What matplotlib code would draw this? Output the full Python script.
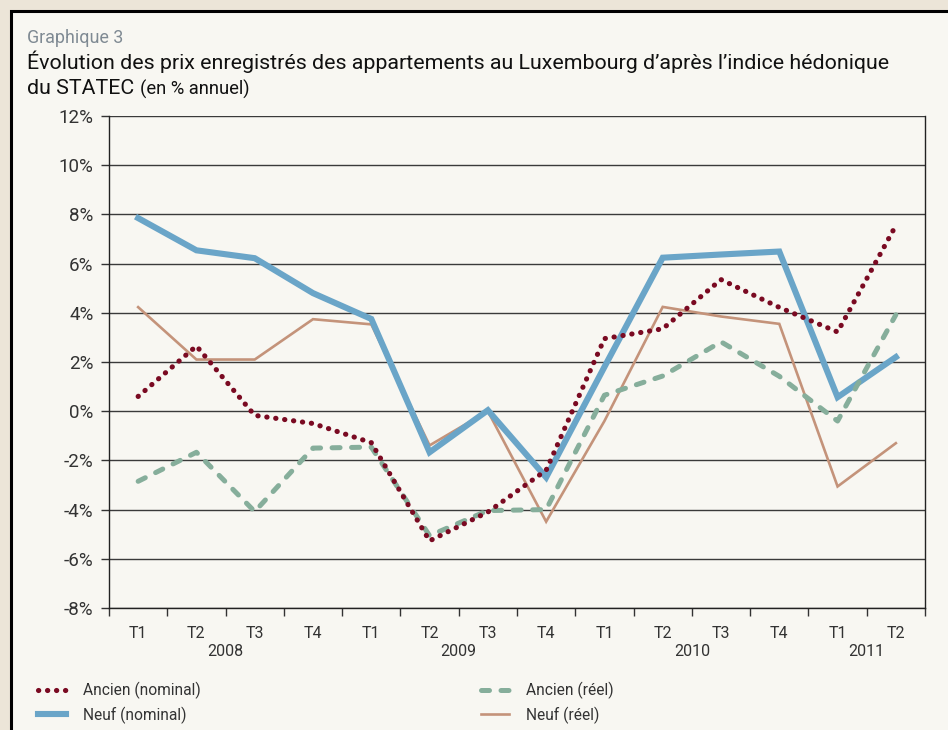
import matplotlib
matplotlib.use("Agg")
import matplotlib.pyplot as plt
from matplotlib.patches import Rectangle
from matplotlib.lines import Line2D
from matplotlib.transforms import blended_transform_factory
import numpy as np

plt.rcParams['font.family'] = ['Roboto', 'DejaVu Sans']

quarters = ["T1", "T2", "T3", "T4", "T1", "T2", "T3", "T4",
            "T1", "T2", "T3", "T4", "T1", "T2"]
years = ["2008", "2009", "2010", "2011"]
year_centers = [1.5, 5.5, 9.5, 12.5]

ancien_nominal = [0.6, 2.65, -0.17, -0.5, -1.28, -5.27, -4.1, -2.4,
                  2.95, 3.35, 5.35, 4.22, 3.22, 7.55]
neuf_nominal = [7.85, 6.54, 6.22, 4.8, 3.75, -1.67, 0.04, -2.69,
                1.8, 6.24, 6.37, 6.49, 0.57, 2.2]
ancien_reel = [-2.85, -1.67, -4.08, -1.5, -1.46, -5.06, -4.04, -4.0,
               0.65, 1.43, 2.82, 1.42, -0.4, 3.92]
neuf_reel = [4.23, 2.1, 2.1, 3.74, 3.53, -1.39, 0.0, -4.49,
             -0.4, 4.24, 3.85, 3.55, -3.06, -1.3]

yticks = [12, 10, 8, 6, 4, 2, 0, -2, -4, -6, -8]

BG_OUT = "#ECE5D8"
BG_IN = "#F8F7F2"
C_RED = "#7A0A22"
C_BLUE = "#6AA5C8"
C_GREEN = "#86AE9B"
C_TAN = "#C4937A"
TXT = "#333333"

W, H = 948, 730
fig = plt.figure(figsize=(W / 100, H / 100), dpi=100)
fig.patch.set_facecolor(BG_OUT)
fig.patches.append(Rectangle((10.5 / W, -0.05), 1.2, (H - 10.5) / H + 0.05,
                             transform=fig.transFigure, facecolor=BG_IN,
                             edgecolor="black", linewidth=2.2, zorder=-5))

ax = fig.add_axes([109 / W, (H - 608) / H, (925 - 109) / W, (608 - 116) / H])
ax.set_facecolor(BG_IN)
x = np.arange(len(quarters))

ax.plot(x, neuf_reel, color=C_TAN, lw=1.9, zorder=3, solid_joinstyle="miter")
ax.plot(x, neuf_nominal, color=C_BLUE, lw=4.4, zorder=4, solid_joinstyle="miter")
ax.plot(x, ancien_reel, color=C_GREEN, lw=3.6, zorder=5,
        linestyle=(0, (1.6, 2.3)), dash_capstyle="round", dash_joinstyle="round")
ax.plot(x, ancien_nominal, color=C_RED, lw=3.7, zorder=6,
        linestyle=(0, (0.05, 1.7)), dash_capstyle="round")

ax.set_xlim(-0.5, len(quarters) - 0.5)
ax.set_ylim(-8, 12)
ax.set_yticks(yticks)
ax.set_yticklabels([f"{v}%" for v in yticks], fontsize=13.5, color=TXT)
for v in yticks:
    ax.axhline(v, color="#3a3a3a", lw=1.0, zorder=1)

ax.set_xticks(x)
ax.set_xticklabels(quarters, fontsize=11.5, color=TXT)
ax.set_xticks(np.arange(-0.5, len(quarters)), minor=True)
ax.tick_params(axis="x", which="major", length=0, pad=13)
ax.tick_params(axis="x", which="minor", length=6, width=1, color="#333333", direction="out")
ax.tick_params(axis="y", length=6, width=1, color="#333333", pad=5)

for s in ["left", "bottom", "right"]:
    ax.spines[s].set_color("#222222")
    ax.spines[s].set_linewidth(1.0)
ax.spines["top"].set_visible(False)

trans = blended_transform_factory(ax.transData, ax.transAxes)
for yr, c in zip(years, year_centers):
    ax.text(c, -43 / 492, yr, transform=trans, ha="center", va="center",
            fontsize=11.5, color=TXT)

fig.text(27 / W, 1 - 38 / H, "Graphique 3", fontsize=12.9, color="#7f8a93",
         ha="left", va="center")
fig.text(27 / W, 1 - 62 / H,
         "Évolution des prix enregistrés des appartements au Luxembourg d\u2019après l\u2019indice hédonique",
         fontsize=15.4, color="#111111", ha="left", va="center")
t1 = fig.text(27 / W, 1 - 88 / H, "du STATEC ", fontsize=15.4, color="#111111",
              ha="left", va="center")
fig.canvas.draw()
bb = t1.get_window_extent()
fig.text(bb.x1 / W, 1 - 89 / H, "(en % annuel)", fontsize=13.2, color="#111111",
         ha="left", va="center")

h_red = Line2D([], [], color=C_RED, lw=3.7, linestyle=(0, (0.05, 1.7)), dash_capstyle="round")
h_blue = Line2D([], [], color=C_BLUE, lw=4.4)
h_green = Line2D([], [], color=C_GREEN, lw=3.6, linestyle=(0, (1.6, 2.3)), dash_capstyle="round")
h_tan = Line2D([], [], color=C_TAN, lw=1.9)

leg_kw = dict(frameon=False, fontsize=11.2, handlelength=1.8, handletextpad=1.1,
              labelspacing=0.45, labelcolor=TXT, borderaxespad=0, borderpad=0)
l1 = fig.legend([h_red, h_blue], ["Ancien (nominal)", "Neuf (nominal)"],
                loc="upper left", bbox_to_anchor=(38 / W, 1 - 682 / H), **leg_kw)
l2 = fig.legend([h_green, h_tan], ["Ancien (réel)", "Neuf (réel)"],
                loc="upper left", bbox_to_anchor=(481 / W, 1 - 682 / H), **leg_kw)

fig.savefig("out.png", dpi=100, facecolor=fig.get_facecolor())
